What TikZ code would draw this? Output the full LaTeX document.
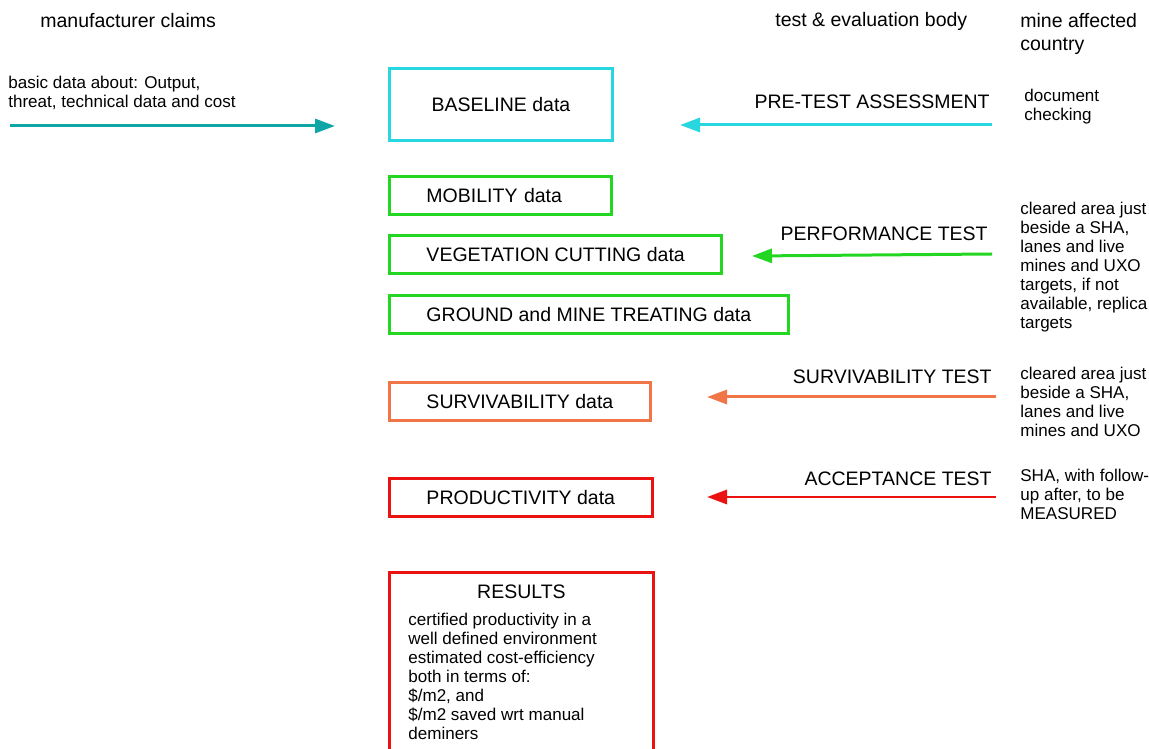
\documentclass[tikz,border=0pt]{standalone}
\usepackage{fontspec}
\setmainfont{Liberation Sans}
\usetikzlibrary{arrows.meta,positioning}

\definecolor{tealline}{RGB}{16,166,166}
\definecolor{cyanline}{RGB}{40,214,224}
\definecolor{greenline}{RGB}{34,214,34}
\definecolor{orangeline}{RGB}{240,118,72}
\definecolor{redline}{RGB}{235,18,18}

\newcommand\labelfont{\fontsize{11.1}{13.1}\selectfont}
\newcommand\notefont{\fontsize{9.7}{10.8}\selectfont}

\tikzset{
  databox/.style={draw,line width=0.06cm,anchor=north west,minimum height=0.77cm,inner xsep=0.74cm,inner ysep=0pt,font=\labelfont},
  flow/.style={line width=0.06cm,-{Triangle[length=0.4cm,width=0.28cm]}},
  note/.style={anchor=north west,inner sep=0pt,align=left,font=\notefont},
  stage/.style={anchor=base east,inner sep=0pt,font=\labelfont},
  heading/.style={inner sep=0pt,align=left,font=\labelfont}
}

\begin{document}
\begin{tikzpicture}[x=0.02cm,y=-0.02cm]
  \clip (0,0) rectangle (1149,749);
  \fill[white] (0,0) rectangle (1149,749);
  \node[heading,anchor=base west] (maker) at (40,28) {manufacturer claims};
  \node[heading,anchor=base west] (tester) at (775,27) {test \& evaluation body};
  \node[heading,anchor=north west] (country) at (1020,13) {mine affected\\country};

  \node[note] (claims) at (8,76) {basic data about: Output,\\threat, technical data and cost};
  \coordinate (claims in) at (10,126);
  \coordinate (claims out) at (335,126);
  \draw[flow,tealline] (claims in) -- (claims out);

  \node[databox,draw=cyanline,minimum width=4.46cm,minimum height=1.44cm,inner xsep=0pt] (baseline) at (388,67) {BASELINE data};
  \node[databox,draw=greenline,text width=2.96cm,align=left] (mobility) at (388,175) {MOBILITY data};
  \node[databox,draw=greenline] (vegetation) at (388,234) {VEGETATION CUTTING data};
  \node[databox,draw=greenline] (ground) at (388,294) {GROUND and MINE TREATING data};
  \node[databox,draw=orangeline] (survival) at (388,381) {SURVIVABILITY data};
  \node[databox,draw=redline] (productivity) at (388,477) {PRODUCTIVITY data};
  \node[databox,draw=redline,minimum width=5.28cm,minimum height=4cm] (results) at (388,571) {};
  \node[heading,below=0.28cm of results.north] (results head) {RESULTS};
  \node[note] (results body) at (408,613) {certified productivity in a\\well defined environment\\estimated cost-efficiency\\both in terms of:\\\$/m2, and\\\$/m2 saved wrt manual\\deminers};

  \node[stage] (pretest) at (990,109) {PRE-TEST ASSESSMENT};
  \node[note] (pretest note) at (1024,89) {document\\checking};
  \coordinate (pretest in) at (992,125);
  \coordinate (pretest out) at (680,125);
  \draw[flow,cyanline] (pretest in) -- (pretest out);

  \node[stage] (performance) at (988,241) {PERFORMANCE TEST};
  \node[note] (performance note) at (1020,202) {cleared area just\\beside a SHA,\\lanes and live\\mines and UXO\\targets, if not\\available, replica\\targets};
  \coordinate (performance in) at (992,254);
  \coordinate (performance out) at (752,256);
  \draw[flow,greenline] (performance in) -- (performance out);

  \node[stage] (survival test) at (992,384) {SURVIVABILITY TEST};
  \node[note] (survival note) at (1020,367) {cleared area just\\beside a SHA,\\lanes and live\\mines and UXO};
  \coordinate (survival in) at (996,397);
  \coordinate (survival out) at (707,397);
  \draw[flow,orangeline] (survival in) -- (survival out);

  \node[stage] (acceptance) at (992,485) {ACCEPTANCE TEST};
  \node[note] (acceptance note) at (1020,469) {SHA, with follow-\\up after, to be\\MEASURED};
  \coordinate (acceptance in) at (996,497);
  \coordinate (acceptance out) at (707,497);
  \draw[flow,redline] (acceptance in) -- (acceptance out);
\end{tikzpicture}
\end{document}
